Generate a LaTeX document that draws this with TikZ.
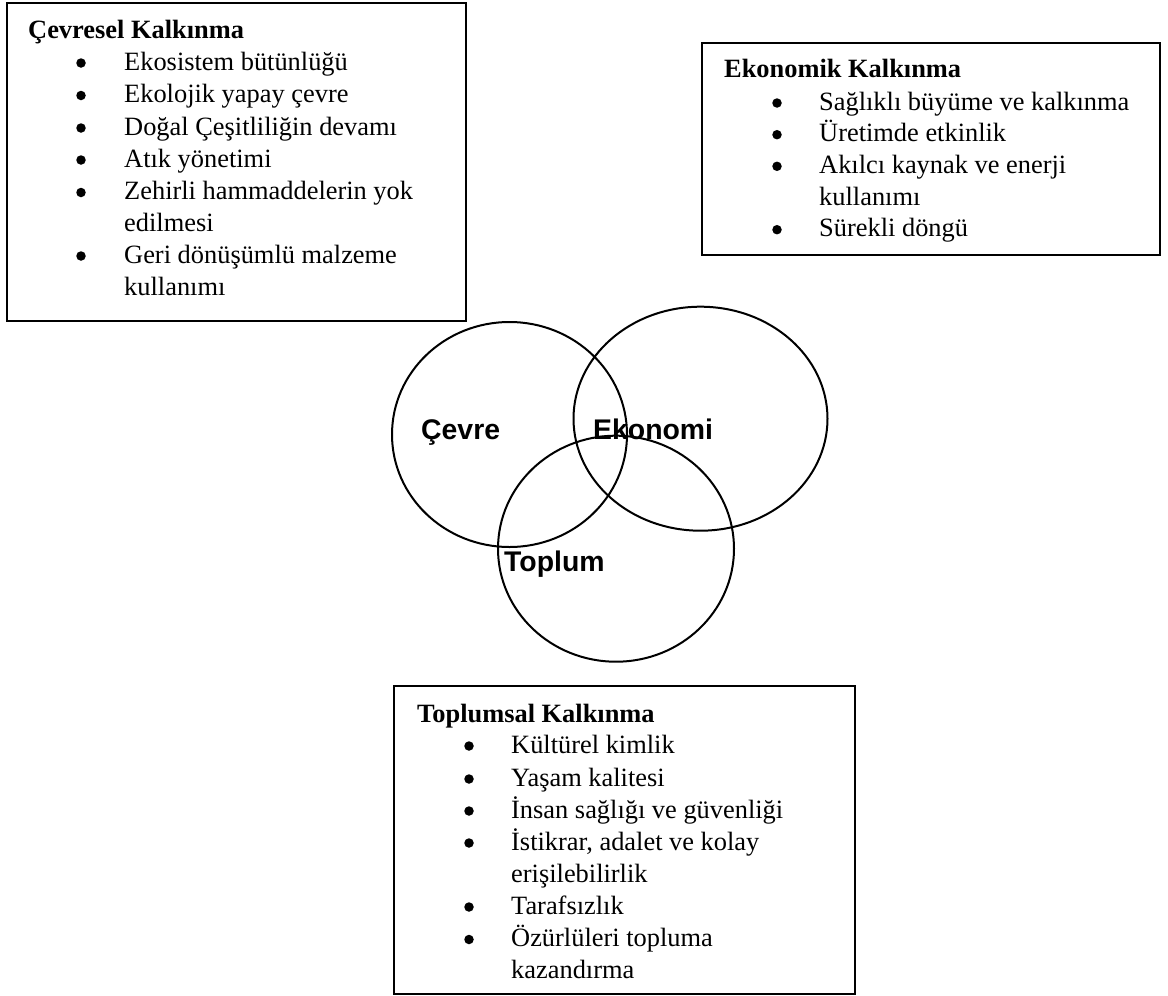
\documentclass[tikz,border=0pt]{standalone}
\usepackage{fontspec}
\setmainfont{Liberation Serif}
\newfontfamily\labelfont{Liberation Sans}
\usetikzlibrary{shapes.geometric}

% body text of the three boxes
\newcommand\boxfont{\fontsize{26.4pt}{31.7pt}\selectfont}
% one bulleted line: name, bullet x, text x, baseline y, text
\newcommand\itemline[5]{%
  \node[bul] (#1b) at (#2,#4-7) {};
  \node[txt] (#1) at (#3,#4) {#5};}
% a wrapped continuation line: name, text x, baseline y, text
\newcommand\contline[4]{\node[txt] (#1) at (#2,#3) {#4};}

\tikzset{
  boxframe/.style={draw, line width=2pt, inner sep=0pt, outer sep=0pt,
    anchor=north west},
  txt/.style={anchor=base west, inner sep=0pt, font=\boxfont},
  ttl/.style={txt, font=\boxfont\bfseries},
  bul/.style={circle, fill, inner sep=0pt, minimum size=9.5pt},
  ring/.style={draw, ellipse, line width=2pt, inner sep=0pt},
  lbl/.style={anchor=base west, inner sep=0pt,
    font=\labelfont\bfseries\fontsize{28.4pt}{34pt}\selectfont},
}

\begin{document}
\begin{tikzpicture}[x=1pt, y=-1pt]
\useasboundingbox (0,0) rectangle (1168,996);

% ---- environmental development ----
\node[boxframe, minimum width=459pt, minimum height=318pt] (cevbox) at (7,3) {};
\node[ttl] (cevttl) at (28,38) {Çevresel Kalkınma};
\itemline{c1}{81}{124}{70}{Ekosistem bütünlüğü}
\itemline{c2}{81}{124}{102.5}{Ekolojik yapay çevre}
\itemline{c3}{81}{124}{135}{Doğal Çeşitliliğin devamı}
\itemline{c4}{81}{124}{167}{Atık yönetimi}
\itemline{c5}{81}{124}{199.5}{Zehirli hammaddelerin yok}
\contline{c5b}{124}{231}{edilmesi}
\itemline{c6}{81}{124}{263}{Geri dönüşümlü malzeme}
\contline{c6b}{124}{295}{kullanımı}

% ---- economic development ----
\node[boxframe, minimum width=458pt, minimum height=212pt] (ekobox) at (702,43) {};
\node[ttl] (ekottl) at (724,77) {Ekonomik Kalkınma};
\itemline{e1}{777}{819}{110}{Sağlıklı büyüme ve kalkınma}
\itemline{e2}{777}{819}{141.7}{Üretimde etkinlik}
\itemline{e3}{777}{819}{173.3}{Akılcı kaynak ve enerji}
\contline{e3b}{819}{205}{kullanımı}
\itemline{e4}{777}{819}{236.7}{Sürekli döngü}

% ---- social development ----
\node[boxframe, minimum width=461pt, minimum height=308pt] (topbox) at (394,686) {};
\node[ttl] (topttl) at (417,722) {Toplumsal Kalkınma};
\itemline{t1}{469}{511}{753}{Kültürel kimlik}
\itemline{t2}{469}{511}{786}{Yaşam kalitesi}
\itemline{t3}{469}{511}{818}{İnsan sağlığı ve güvenliği}
\itemline{t4}{469}{511}{850}{İstikrar, adalet ve kolay}
\contline{t4b}{511}{882}{erişilebilirlik}
\itemline{t5}{469}{511}{914}{Tarafsızlık}
\itemline{t6}{469}{511}{946.5}{Özürlüleri topluma}
\contline{t6b}{511}{978}{kazandırma}

% ---- three overlapping rings ----
\node[ring, minimum width=235pt, minimum height=225pt] (cevre) at (509.5,434.5) {};
\node[ring, minimum width=254pt, minimum height=224pt] (ekonomi) at (700.5,418.7) {};
\node[ring, minimum width=236pt, minimum height=226pt] (toplum) at (616,548.7) {};

\node[lbl] (cevrelbl) at (421,439) {Çevre};
\node[lbl] (ekonomilbl) at (593,439) {Ekonomi};
\node[lbl] (toplumlbl) at (504,571) {Toplum};
\end{tikzpicture}
\end{document}
